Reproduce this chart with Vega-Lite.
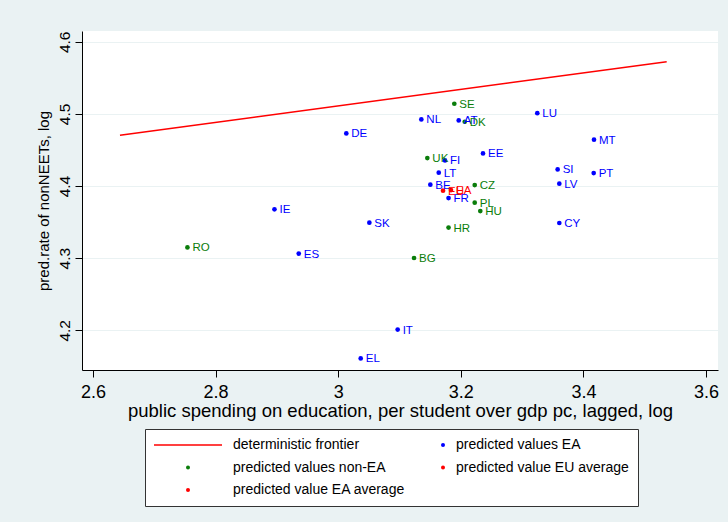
{
  "$schema": "https://vega.github.io/schema/vega-lite/v6.json",
  "width": 636,
  "height": 339,
  "autosize": {"type": "none"},
  "padding": {"left": 82, "top": 31, "right": 10, "bottom": 152},
  "background": "#EAF2F3",
  "config": {
    "view": {"fill": "white", "stroke": null},
    "font": "Liberation Sans",
    "axis": {
      "domainColor": "black",
      "tickColor": "black",
      "labelColor": "black",
      "titleColor": "black",
      "titleFontWeight": "normal",
      "tickSize": 7,
      "labelFlush": false,
      "gridColor": "#EAF2F3",
      "gridWidth": 1.2
    }
  },
  "datasets": {
    "frontier": [
      {"x": 2.644, "y": 4.4706, "group": "deterministic frontier"},
      {"x": 3.5359, "y": 4.5723, "group": "deterministic frontier"}
    ],
    "countries": [
      {"code": "NL", "x": 3.1356, "y": 4.4924, "group": "predicted values EA"},
      {"code": "AT", "x": 3.1966, "y": 4.491, "group": "predicted values EA"},
      {"code": "DE", "x": 3.0132, "y": 4.473, "group": "predicted values EA"},
      {"code": "LU", "x": 3.3248, "y": 4.5011, "group": "predicted values EA"},
      {"code": "MT", "x": 3.4173, "y": 4.4643, "group": "predicted values EA"},
      {"code": "SI", "x": 3.358, "y": 4.4231, "group": "predicted values EA"},
      {"code": "PT", "x": 3.4168, "y": 4.418, "group": "predicted values EA"},
      {"code": "LV", "x": 3.3607, "y": 4.4033, "group": "predicted values EA"},
      {"code": "EE", "x": 3.2362, "y": 4.4453, "group": "predicted values EA"},
      {"code": "FI", "x": 3.1742, "y": 4.4356, "group": "predicted values EA"},
      {"code": "LT", "x": 3.164, "y": 4.4186, "group": "predicted values EA"},
      {"code": "BE", "x": 3.1503, "y": 4.402, "group": "predicted values EA"},
      {"code": "FR", "x": 3.18, "y": 4.3834, "group": "predicted values EA"},
      {"code": "IE", "x": 2.896, "y": 4.3677, "group": "predicted values EA"},
      {"code": "SK", "x": 3.0508, "y": 4.3493, "group": "predicted values EA"},
      {"code": "ES", "x": 2.9356, "y": 4.3064, "group": "predicted values EA"},
      {"code": "IT", "x": 3.097, "y": 4.2011, "group": "predicted values EA"},
      {"code": "EL", "x": 3.0367, "y": 4.161, "group": "predicted values EA"},
      {"code": "CY", "x": 3.3607, "y": 4.3488, "group": "predicted values EA"},
      {"code": "SE", "x": 3.1894, "y": 4.5141, "group": "predicted values non-EA"},
      {"code": "DK", "x": 3.2064, "y": 4.4892, "group": "predicted values non-EA"},
      {"code": "UK", "x": 3.1454, "y": 4.4388, "group": "predicted values non-EA"},
      {"code": "CZ", "x": 3.2227, "y": 4.4014, "group": "predicted values non-EA"},
      {"code": "PL", "x": 3.2227, "y": 4.377, "group": "predicted values non-EA"},
      {"code": "HU", "x": 3.2318, "y": 4.3654, "group": "predicted values non-EA"},
      {"code": "HR", "x": 3.18, "y": 4.3424, "group": "predicted values non-EA"},
      {"code": "BG", "x": 3.1237, "y": 4.3003, "group": "predicted values non-EA"},
      {"code": "RO", "x": 2.754, "y": 4.315, "group": "predicted values non-EA"},
      {"code": "EU", "x": 3.171, "y": 4.3936, "group": "predicted value EU average"},
      {"code": "EA", "x": 3.184, "y": 4.3945, "group": "predicted value EA average"}
    ]
  },
  "encoding": {
    "x": {
      "field": "x",
      "type": "quantitative",
      "scale": {"domain": [2.582, 3.6196], "nice": false, "zero": false},
      "axis": {
        "title": "public spending on education, per student over gdp pc, lagged, log",
        "values": [2.6, 2.8, 3, 3.2, 3.4, 3.6],
        "format": "~g",
        "grid": false,
        "labelFontSize": 18,
        "titleFontSize": 18.5,
        "labelPadding": 6,
        "titlePadding": 0
      }
    },
    "y": {
      "field": "y",
      "type": "quantitative",
      "scale": {"domain": [4.145, 4.615], "nice": false, "zero": false},
      "axis": {
        "title": "pred.rate of nonNEETs, log",
        "values": [4.2, 4.3, 4.4, 4.5, 4.6],
        "format": ".1f",
        "grid": true,
        "labelFontSize": 15.5,
        "titleFontSize": 15,
        "labelAngle": 270,
        "labelAlign": "center",
        "labelBaseline": "alphabetic",
        "labelPadding": 6,
        "titleAngle": 270,
        "titleBaseline": "alphabetic",
        "titleX": -33.5
      }
    },
    "color": {
      "field": "group",
      "type": "nominal",
      "scale": {
        "domain": [
          "deterministic frontier",
          "predicted values EA",
          "predicted values non-EA",
          "predicted value EU average",
          "predicted value EA average"
        ],
        "range": ["#FF0000", "#0000FF", "#0A7D0A", "#FF0000", "#FF0000"]
      },
      "legend": {
        "title": null,
        "orient": "none",
        "legendX": 63,
        "legendY": 398,
        "direction": "horizontal",
        "columns": 2,
        "columnPadding": 34,
        "rowPadding": 8.5,
        "padding": 9,
        "fillColor": "white",
        "strokeColor": "#333333",
        "labelFontSize": 14,
        "labelColor": "black",
        "labelLimit": 300,
        "symbolSize": 16,
        "encode": {
          "entries": {"update": {"width": {"value": 1}}},
          "symbols": {
            "update": {
              "x": {"signal": "datum.index % 2 === 0 ? 34 : 4"},
              "shape": {"signal": "datum.value === 'deterministic frontier' ? 'stroke' : 'circle'"},
              "size": {"signal": "datum.value === 'deterministic frontier' ? 4624 : 16"},
              "strokeWidth": {"signal": "datum.value === 'deterministic frontier' ? 1.5 : 0"},
              "fill": {"scale": "color", "field": "value"},
              "stroke": {"scale": "color", "field": "value"},
              "opacity": {"value": 1}
            }
          },
          "labels": {
            "update": {
              "x": {"signal": "datum.index % 2 === 0 ? 79 : 17"}
            }
          }
        }
      }
    }
  },
  "layer": [
    {
      "data": {"name": "frontier"},
      "mark": {"type": "line", "strokeWidth": 1.5}
    },
    {
      "data": {"name": "countries"},
      "mark": {"type": "point", "filled": true, "size": 22, "opacity": 1}
    },
    {
      "data": {"name": "countries"},
      "mark": {"type": "text", "align": "left", "baseline": "middle", "dx": 5, "dy": 1, "fontSize": 11.5},
      "encoding": {"text": {"field": "code"}}
    }
  ]
}
